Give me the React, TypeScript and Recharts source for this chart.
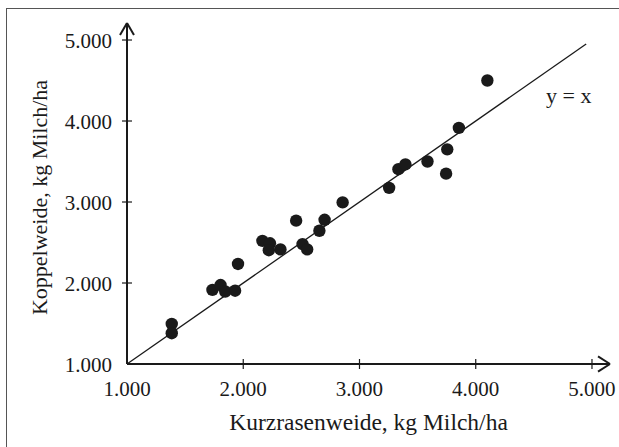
import React from 'react';
import {
  ScatterChart, Scatter, XAxis, YAxis, ReferenceLine, ReferenceDot,
} from 'recharts';

// --- Milchleistung je ha: Kurzrasenweide vs. Koppelweide ---
const kurzrasen = [
  1385, 1385, 1735, 1805, 1845, 1930, 1955, 2165, 2230, 2220, 2320, 2455, 2510,
  2550, 2655, 2700, 2855, 3255, 3335, 3395, 3585, 3745, 3755, 3855, 4100,
];
const koppel = [
  1495, 1380, 1915, 1975, 1895, 1905, 2235, 2520, 2490, 2405, 2415, 2770, 2480,
  2415, 2645, 2780, 2995, 3175, 3405, 3465, 3500, 3350, 3650, 3915, 4500,
];

const X_TICKS = [1000, 2000, 3000, 4000, 5000];
const Y_TICKS = [1000, 2000, 3000, 4000, 5000];
const X_MAX = 5155;
const Y_MAX = 5210;

const data = kurzrasen.map((x, i) => ({ x, y: koppel[i] }));

const FONT = '"Liberation Serif", "Times New Roman", serif';
const INK = '#1a1a1a';

const fmt = (v: number) => `${Math.floor(v / 1000)}.${String(v % 1000).padStart(3, '0')}`;

const XTick = ({ x, y, payload }: any) => (
  <g>
    {payload.value !== 1000 && (
      <line x1={x} y1={y - 5} x2={x} y2={y + 5} stroke={INK} strokeWidth={1.2} />
    )}
    <text x={x} y={y + 32} textAnchor="middle" fill={INK} fontSize={21} fontFamily={FONT}>
      {fmt(payload.value)}
    </text>
  </g>
);

const YTick = ({ x, y, payload }: any) => (
  <g>
    {payload.value !== 1000 && (
      <line x1={x - 5} y1={y} x2={x + 5} y2={y} stroke={INK} strokeWidth={1.2} />
    )}
    <text x={x - 15} y={y + 8} textAnchor="end" fill={INK} fontSize={21} fontFamily={FONT}>
      {fmt(payload.value)}
    </text>
  </g>
);

const YTitle = ({ viewBox }: any) => {
  const cx = 39;
  const cy = viewBox.y + viewBox.height / 2 + 4;
  return (
    <text
      x={cx}
      y={cy}
      transform={`rotate(-90 ${cx} ${cy})`}
      textAnchor="middle"
      dominantBaseline="central"
      fill={INK}
      fontSize={22}
      fontFamily={FONT}
    >
      Koppelweide, kg Milch/ha
    </text>
  );
};

const Dot = (p: any) => <circle cx={p.cx} cy={p.cy} r={6.2} fill={INK} />;

export default function App() {
  return (
    <div style={{ position: 'absolute', left: 0, top: 0, width: 619, height: 447, overflow: 'hidden', background: '#fff' }}>
      <div style={{ position: 'absolute', left: 6, top: 8, width: 700, height: 500, border: '1px solid #555' }} />
      <div style={{ position: 'absolute', left: 0, top: 0 }}>
        <ScatterChart width={619} height={447} margin={{ top: 23, right: 9, bottom: 0, left: 0 }}>
          <XAxis
            type="number"
            dataKey="x"
            domain={[1000, X_MAX]}
            ticks={X_TICKS}
            interval={0}
            height={83}
            tickSize={0}
            tickMargin={0}
            tickLine={false}
            tick={<XTick />}
            axisLine={{ stroke: INK, strokeWidth: 2 }}
            label={{ value: 'Kurzrasenweide, kg Milch/ha', position: 'insideBottom', offset: 17, fill: INK, fontSize: 23.5, fontFamily: FONT }}
          />
          <YAxis
            type="number"
            dataKey="y"
            domain={[1000, Y_MAX]}
            ticks={Y_TICKS}
            interval={0}
            width={127}
            tickSize={0}
            tickMargin={0}
            tickLine={false}
            tick={<YTick />}
            axisLine={{ stroke: INK, strokeWidth: 2 }}
            label={{ content: <YTitle /> }}
          />
          <ReferenceLine segment={[{ x: 1000, y: 1000 }, { x: 4950, y: 4950 }]} stroke={INK} strokeWidth={1.3} ifOverflow="visible" />
          {/* arrowheads */}
          <ReferenceLine segment={[{ x: X_MAX - 103, y: 1093 }, { x: X_MAX, y: 1000 }]} stroke={INK} strokeWidth={2} ifOverflow="visible" />
          <ReferenceLine segment={[{ x: X_MAX - 103, y: 907 }, { x: X_MAX, y: 1000 }]} stroke={INK} strokeWidth={2} ifOverflow="visible" />
          <ReferenceLine segment={[{ x: 940, y: Y_MAX - 148 }, { x: 1000, y: Y_MAX }]} stroke={INK} strokeWidth={2} ifOverflow="visible" />
          <ReferenceLine segment={[{ x: 1060, y: Y_MAX - 148 }, { x: 1000, y: Y_MAX }]} stroke={INK} strokeWidth={2} ifOverflow="visible" />
          <ReferenceDot
            x={4800}
            y={4320}
            r={1}
            fill="none"
            stroke="none"
            label={{ value: 'y = x', position: 'center', fill: INK, fontSize: 22, fontFamily: FONT }}
          />
          <Scatter data={data} fill={INK} shape={Dot} isAnimationActive={false} />
        </ScatterChart>
      </div>
    </div>
  );
}
